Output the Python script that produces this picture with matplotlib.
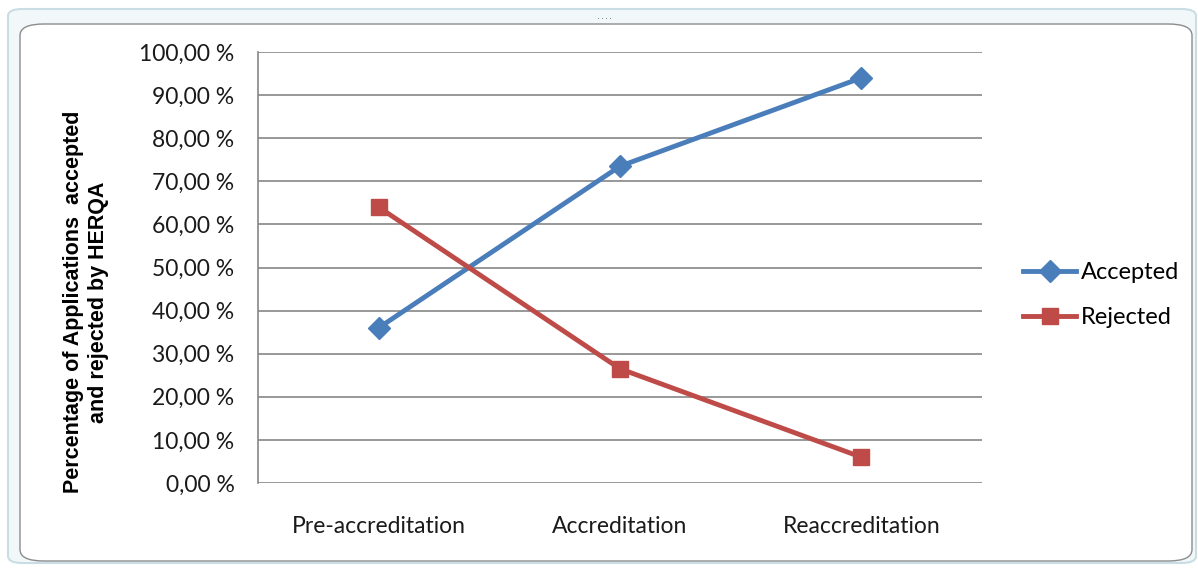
import matplotlib
matplotlib.use("Agg")
import matplotlib.pyplot as plt
from matplotlib.patches import FancyBboxPatch
from matplotlib.ticker import FuncFormatter, MultipleLocator

# Data
stages = ["Pre-accreditation", "Accreditation", "Reaccreditation"]
accepted = [36.0, 73.5, 94.0]
rejected = [64.0, 26.5, 6.0]

blue = "#4a7ebb"
red = "#be4b48"
grid_col = "#868686"
font_main = ["Lato", "DejaVu Sans"]

fig = plt.figure(figsize=(11.98, 5.69), dpi=100)

# Chart frame
outer = FancyBboxPatch((8 / 1198, 6 / 569), 1188 / 1198, 554 / 569,
                       boxstyle="round,pad=0,rounding_size=0.012",
                       transform=fig.transFigure, facecolor="#f2f8fa",
                       edgecolor="#c9dde4", linewidth=1.5, zorder=-2)
fig.patches.append(outer)
inner = FancyBboxPatch((20 / 1198, 8 / 569), 1172 / 1198, 537 / 569,
                       boxstyle="round,pad=0,rounding_size=0.02",
                       transform=fig.transFigure, facecolor="white",
                       edgecolor="#8c8c8c", linewidth=1.0, zorder=-1)
fig.patches.append(inner)
for dx in range(4):
    fig.text((598 + dx * 4) / 1198, 1 - 16 / 569, ".", color="#6a7a80",
             fontsize=7, ha="center", va="center")

ax = fig.add_axes([258 / 1198, 1 - 483 / 569, 724 / 1198, 431 / 569])
ax.set_facecolor("none")

x = range(len(stages))
ax.plot(x, accepted, color=blue, linewidth=3.5, marker="D", markersize=11,
        label="Accepted", zorder=3)
ax.plot(x, rejected, color=red, linewidth=3.5, marker="s", markersize=12,
        label="Rejected", zorder=3)

ax.set_xlim(-0.5, len(stages) - 0.5)
ax.set_ylim(0, 100)
ax.yaxis.set_major_locator(MultipleLocator(10))
ax.yaxis.set_major_formatter(
    FuncFormatter(lambda v, _: f"{v:.2f} %".replace(".", ",")))
ax.set_xticks(list(x))
ax.set_xticklabels(stages)
ax.grid(axis="y", color=grid_col, linewidth=1.2)
ax.set_axisbelow(True)

for side in ["top", "right", "bottom"]:
    ax.spines[side].set_visible(False)
ax.spines["left"].set_color(grid_col)
ax.spines["left"].set_linewidth(1.2)
ax.tick_params(axis="both", length=0, labelsize=16.5, colors="#1a1a1a")
ax.tick_params(axis="y", pad=17)
ax.tick_params(axis="x", pad=24)
for lab in ax.get_xticklabels() + ax.get_yticklabels():
    lab.set_family(font_main)

fig.text(86 / 1198, 1 - 302 / 569,
         "Percentage of Applications  accepted\nand rejected by HERQA",
         rotation=90, ha="center", va="center", fontsize=15.5,
         fontweight="bold", family=["Liberation Sans Narrow", "Liberation Sans"],
         linespacing=1.3)

fig.legend(loc="center left", bbox_to_anchor=(1002 / 1198, 1 - 295 / 569),
           frameon=False, handlelength=2.25, handletextpad=0.2,
           labelspacing=1.0, prop={"family": font_main, "size": 17})

fig.savefig("out.png", dpi=100)
